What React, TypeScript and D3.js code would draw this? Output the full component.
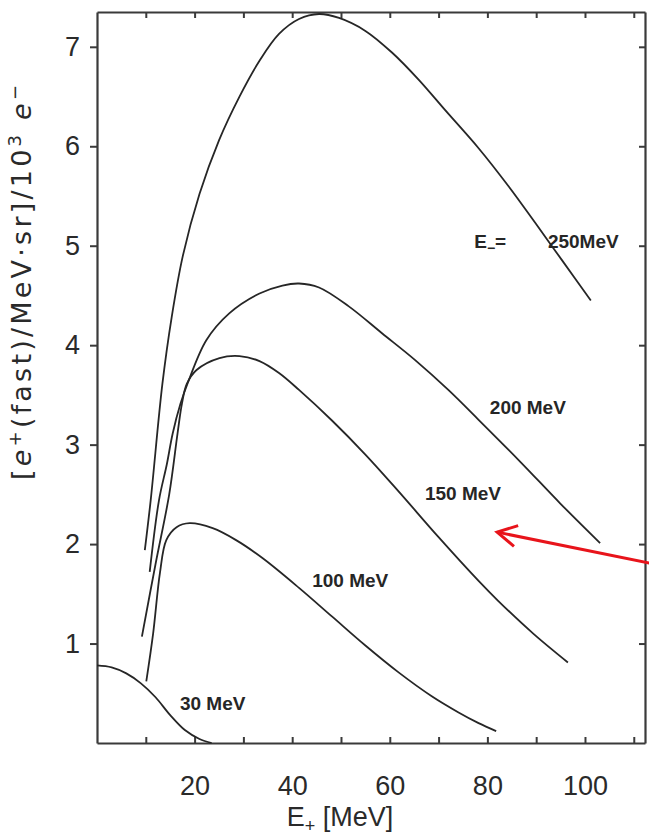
import React, { useEffect, useRef } from 'react'
import * as d3 from 'd3'

// E+ (MeV), e+ yield per MeV.sr per 10^3 e-
const e250: [number, number][] = [[9.8,1.94],[11,2.44],[13.4,3.61],[15.3,4.28],[17.6,4.9],[21,5.52],[25,6.06],[29.2,6.5],[33.3,6.86],[37.3,7.13],[41.4,7.28],[45.5,7.33],[49.6,7.29],[55,7.16],[60.5,6.94],[65.9,6.67],[71.4,6.36],[78.2,5.98],[84.3,5.6],[89.8,5.23],[95.5,4.84],[101.2,4.45]]
const e200: [number, number][] = [[10.8,1.72],[12.7,2.44],[14.3,2.8],[15.5,3.11],[17.1,3.41],[18.6,3.62],[22.4,4.05],[27.1,4.32],[33.3,4.52],[38,4.6],[41.4,4.62],[45.5,4.58],[51.6,4.39],[58.4,4.12],[65.2,3.85],[72,3.55],[78.2,3.25],[86.7,2.83],[94.9,2.41],[103.1,2.01]]
const e150: [number, number][] = [[9.2,1.07],[12,1.8],[14.8,2.5],[16.5,3.11],[17.4,3.41],[18.4,3.61],[20.4,3.75],[25.1,3.87],[29.2,3.89],[33.3,3.84],[37.3,3.72],[41.4,3.55],[48.2,3.24],[55,2.9],[61.8,2.53],[70,2.07],[78.2,1.63],[82.2,1.43],[89.4,1.1],[96.5,0.81]]
const e100: [number, number][] = [[10.1,0.62],[11.5,1.1],[12.9,1.71],[14.2,2.04],[16.3,2.17],[19,2.21],[23.7,2.16],[28.5,2.04],[33.9,1.86],[41.4,1.56],[48.2,1.27],[55,0.98],[61.8,0.71],[68.6,0.47],[74,0.31],[78.2,0.2],[81.8,0.12]]
const e30: [number, number][] = [[0,0.78],[3,0.76],[6,0.7],[9,0.6],[12,0.46],[15,0.28],[18,0.13],[21,0.04],[23.5,0.0]]

const curves = [e250, e200, e150, e100, e30]

// curve labels: [E+, value, text]
const labels: [number, number, string][] = [
  [80.5, 3.37, '200 MeV'],
  [67.2, 2.51, '150 MeV'],
  [44.1, 1.64, '100 MeV'],
  [17, 0.4, '30 MeV'],
]

const xTicks = [10, 20, 30, 40, 50, 60, 70, 80, 90, 100, 110]
const yTicks = [1, 2, 3, 4, 5, 6, 7]

// red arrow annotation (tail -> tip), data units
const arrowTail: [number, number] = [113.2, 1.81]
const arrowTip: [number, number] = [82, 2.12]

const W = 649
const H = 836

export default function App() {
  const bottomRef = useRef<SVGGElement>(null)
  const topRef = useRef<SVGGElement>(null)
  const leftRef = useRef<SVGGElement>(null)
  const rightRef = useRef<SVGGElement>(null)

  const x = d3.scaleLinear().domain([0, 112.3]).range([97, 645])
  const y = d3.scaleLinear().domain([0, 7.35]).range([743, 12])

  useEffect(() => {
    const fmt = (d: any) => (d % 20 === 0 && d <= 100 ? String(d) : '')
    d3.select(bottomRef.current!)
      .call(d3.axisBottom(x).tickValues(xTicks).tickSizeInner(-6).tickSizeOuter(0).tickPadding(33).tickFormat(fmt))
    d3.select(topRef.current!)
      .call(d3.axisTop(x).tickValues(xTicks).tickSizeInner(-6).tickSizeOuter(0).tickFormat(() => ''))
    d3.select(leftRef.current!)
      .call(d3.axisLeft(y).tickValues(yTicks).tickSizeInner(7).tickSizeOuter(0).tickPadding(10).tickFormat(d3.format('d')))
    d3.select(rightRef.current!)
      .call(d3.axisRight(y).tickValues(yTicks).tickSizeInner(-6).tickSizeOuter(0).tickFormat(() => ''))

    const all = d3.selectAll([bottomRef.current, topRef.current, leftRef.current, rightRef.current] as any)
    all.selectAll('.domain').attr('stroke', '#3a3a3a').attr('stroke-width', 2.2)
    all.selectAll('.tick line').attr('stroke', '#3a3a3a').attr('stroke-width', 2)
    all.selectAll('.tick text')
      .attr('fill', '#2a2a2a')
      .style('font-family', "'Liberation Sans', Arial, sans-serif")
      .style('font-size', '27px')
  }, [])

  const line = d3.line<[number, number]>()
    .x(d => x(d[0]))
    .y(d => y(d[1]))
    .curve(d3.curveCatmullRom.alpha(0.5))

  // arrow head
  const tx = x(arrowTip[0]), ty = y(arrowTip[1])
  const sx = x(arrowTail[0]), sy = y(arrowTail[1])
  const ang = Math.atan2(sy - ty, sx - tx)
  const hl = 22, ha = 0.5
  const h1 = [tx + hl * Math.cos(ang + ha), ty + hl * Math.sin(ang + ha)]
  const h2 = [tx + hl * Math.cos(ang - ha), ty + hl * Math.sin(ang - ha)]

  const labelFont = "'Liberation Sans', Arial, sans-serif"

  return (
    <svg width={W} height={H} style={{ position: 'absolute', left: 0, top: 0, background: '#fff' }}>
      <rect width={W} height={H} fill="#fff" />
      <g ref={bottomRef} transform={`translate(0,${y(0)})`} />
      <g ref={topRef} transform={`translate(0,${y(7.35)})`} />
      <g ref={leftRef} transform={`translate(${x(0)},0)`} />
      <g ref={rightRef} transform={`translate(${x(112.3)},0)`} />

      {curves.map((c, i) => (
        <path key={i} d={line(c) || ''} fill="none" stroke="#262626" strokeWidth={1.8} />
      ))}

      {labels.map((l, i) => (
        <text key={i} x={x(l[0])} y={y(l[1])} dy="0.35em" fill="#262626"
          style={{ fontFamily: labelFont, fontSize: 19, fontWeight: 600 }}>{l[2]}</text>
      ))}

      <text x={x(77.3)} y={y(5.04)} dy="0.35em" fill="#262626"
        style={{ fontFamily: labelFont, fontSize: 19, fontWeight: 600 }}>
        E<tspan dy="5" fontSize={14}>−</tspan><tspan dy="-5">=</tspan>
      </text>
      <text x={x(92.4)} y={y(5.04)} dy="0.35em" fill="#262626"
        style={{ fontFamily: labelFont, fontSize: 19, fontWeight: 600 }}>250MeV</text>

      <text transform={`translate(31,${y(4.63)}) rotate(-90)`} textAnchor="middle" fill="#2a2a2a"
        textLength={395} lengthAdjust="spacing"
        style={{ fontFamily: "'DejaVu Sans', sans-serif", fontSize: 27 }}>
        [<tspan fontStyle="italic">e</tspan><tspan dy="-10" fontSize={18}>+</tspan><tspan dy="10">(fast)/MeV·sr]/10</tspan><tspan dy="-10" fontSize={18}>3</tspan><tspan dy="10"> </tspan><tspan fontStyle="italic">e</tspan><tspan dy="-10" fontSize={18}>−</tspan>
      </text>

      <text x={x(49.8)} y={817} dy="0.35em" textAnchor="middle" fill="#2a2a2a"
        style={{ fontFamily: labelFont, fontSize: 27 }}>
        E<tspan dy="6" fontSize={18}>+</tspan><tspan dy="-6"> [MeV]</tspan>
      </text>

      <line x1={sx} y1={sy} x2={tx} y2={ty} stroke="#e8141b" strokeWidth={3} />
      <polyline points={`${h1[0]},${h1[1]} ${tx},${ty} ${h2[0]},${h2[1]}`} fill="none"
        stroke="#e8141b" strokeWidth={3} strokeLinejoin="miter" />
    </svg>
  )
}
